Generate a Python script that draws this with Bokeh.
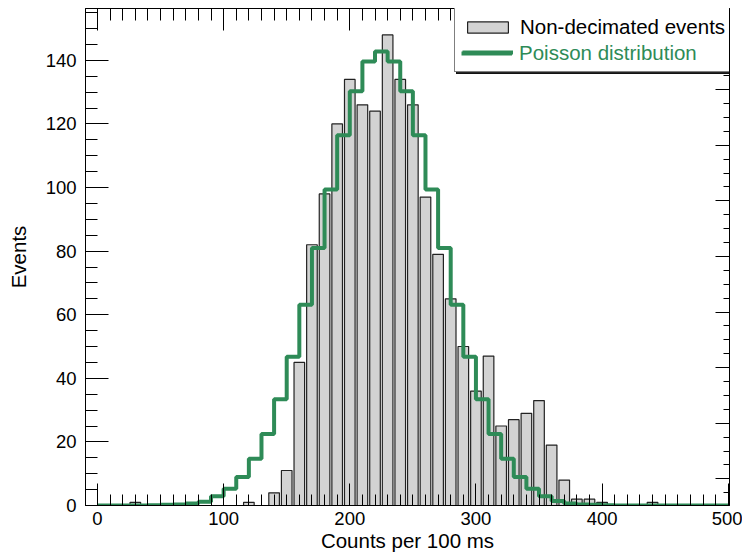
from bokeh.plotting import figure
from bokeh.models import (Range1d, LinearAxis, SingleIntervalTicker, Legend, LegendItem,
                          CustomJSTickFormatter)
from bokeh.embed import file_html
from bokeh.resources import INLINE

# ---- data ----
bin_centers = [30, 120, 140, 150, 160, 170, 180, 190, 200, 210, 220, 230, 240, 250,
               260, 270, 280, 290, 300, 310, 320, 330, 340, 350, 360, 370, 380, 390,
               400, 440]
event_counts = [1, 1, 4, 11, 45, 82, 98, 120, 134, 126, 124, 148, 134, 126,
                97, 79, 65, 50, 36, 47, 25, 27, 29, 33, 19, 8, 2, 2,
                1, 1]

poisson_edges = list(range(0, 510, 10))  # bin edges 0 .. 500
poisson_values = [0, 0, 0, 0, 0.1, 0.2, 0.3, 0.6, 1.2, 2.9,
                  5.3, 9.0, 14.7, 22.5, 33.4, 46.8, 63.1, 81.0, 99.4, 116.4,
                  130.3, 139.6, 142.8, 139.6, 130.3, 116.4, 99.4, 81.0, 63.1, 46.8,
                  33.4, 22.5, 14.7, 9.0, 5.3, 2.9, 1.4, 0.6, 0.3, 0.2,
                  0.1, 0, 0, 0, 0, 0, 0, 0, 0, 0]

x_ticks_interval = 100
y_ticks_interval = 20

FONT = "Liberation Sans"
GREEN = "#2e8b57"

p = figure(width=742, height=554, output_backend="svg", toolbar_location=None,
           x_range=Range1d(-9.5, 501), y_range=Range1d(0, 156.3),
           min_border_left=85, min_border_right=13, min_border_top=8, min_border_bottom=49)
p.grid.visible = False
p.outline_line_color = "black"
p.background_fill_color = "white"

bars = p.vbar(x=bin_centers, top=event_counts, width=8.4, bottom=0,
              fill_color="#d3d3d3", line_color="#222222", line_width=1.2)

step_y = poisson_values + [poisson_values[-1]]
line = p.step(x=poisson_edges, y=step_y, mode="after", line_color=GREEN, line_width=4)
dummy = p.line(x=[], y=[], line_alpha=0)

blank = CustomJSTickFormatter(code="return ''")


def style_axis(ax, major_in, minor_in, labels=True):
    ax.axis_line_color = "black"
    ax.major_tick_line_color = "black"
    ax.minor_tick_line_color = "black"
    ax.major_tick_in = major_in
    ax.major_tick_out = 0
    ax.minor_tick_in = minor_in
    ax.minor_tick_out = 0
    ax.major_label_text_font = FONT
    ax.axis_label_text_font = FONT
    ax.axis_label_text_font_style = "normal"
    ax.axis_label_text_color = "black"
    ax.major_label_text_color = "black"
    if not labels:
        ax.formatter = blank
        ax.major_label_standoff = 0


xa = p.xaxis[0]
xa.ticker = SingleIntervalTicker(interval=x_ticks_interval, num_minor_ticks=10)
style_axis(xa, 22, 11)
xa.major_label_text_font_size = "18.5px"
xa.major_label_standoff = 6
xa.axis_label = "Counts per 100 ms"
xa.axis_label_text_font_size = "20.5px"
xa.axis_label_text_line_height = 1.0
xa.axis_label_standoff = 1

ya = p.yaxis[0]
ya.ticker = SingleIntervalTicker(interval=y_ticks_interval, num_minor_ticks=4)
style_axis(ya, 23, 12)
ya.major_label_text_font_size = "18.5px"
ya.major_label_standoff = 9
ya.axis_label = "Events"
ya.axis_label_text_font_size = "20.5px"
ya.axis_label_standoff = 13

top_ax = LinearAxis(ticker=SingleIntervalTicker(interval=x_ticks_interval, num_minor_ticks=10))
style_axis(top_ax, 22, 12, labels=False)
p.add_layout(top_ax, "above")

p.extra_y_ranges = {"right": Range1d(-0.48, 8.46)}
right_ax = LinearAxis(y_range_name="right", ticker=SingleIntervalTicker(interval=1, num_minor_ticks=4))
style_axis(right_ax, 14, 6, labels=False)
p.add_layout(right_ax, "right")

common = dict(padding=7, spacing=0, label_standoff=7, label_width=216,
              glyph_width=51, glyph_height=14, label_height=25,
              label_text_font=FONT, label_text_font_size="20.5px",
              label_text_line_height=1.0, margin=0)

leg_shadow = Legend(items=[LegendItem(label=" ", renderers=[dummy]),
                           LegendItem(label=" ", renderers=[dummy])],
                    location=(371, 431),
                    border_line_color="black", border_line_width=1,
                    background_fill_color="black", background_fill_alpha=0.85,
                    label_text_color="black", **common)
leg_a = Legend(items=[LegendItem(label="Non-decimated events", renderers=[bars]),
                      LegendItem(label=" ", renderers=[line])],
               location=(369, 433),
               border_line_color="black", border_line_width=1,
               background_fill_color="white", background_fill_alpha=1,
               label_text_color="black", **common)
leg_b = Legend(items=[LegendItem(label=" ", renderers=[dummy]),
                      LegendItem(label="Poisson distribution", renderers=[line])],
               location=(369, 433),
               border_line_alpha=0, background_fill_alpha=0,
               label_text_color=GREEN, **common)
p.add_layout(leg_shadow, "center")
p.add_layout(leg_a, "center")
p.add_layout(leg_b, "center")

open("out.html", "w").write(file_html(p, INLINE))
